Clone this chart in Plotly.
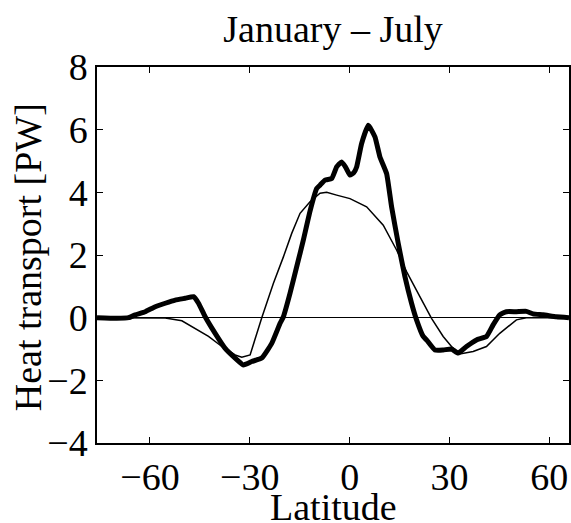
import plotly.graph_objects as go

# Thick curve (observed) — latitude and heat transport [PW]
lat_thick = [-75.9, -70, -66.4, -64.4, -61.4, -58.4, -55.4, -52.4, -49.4, -46.9, -45.4,
             -43.4, -40.4, -37.4, -34.4, -31.9, -29.4, -26.4, -23.4, -20.9, -19.9, -17.9,
             -15.9, -13.9, -11.9, -9.9, -8.9, -7.4, -5.4, -3.9, -2.4, -1.2, 0.1, 1.2, 2.1,
             3.6, 5.6, 7.6, 9.1, 11.1, 12.6, 14.6, 16.6, 18.6, 20.1, 22.1, 23.1, 25.6,
             28.1, 30.6, 32.6, 35.1, 38.1, 41.1, 43.1, 45.1, 47.1, 50.1, 53.1, 55.1,
             58.1, 62.1, 65.9]
val_thick = [0.0, -0.02, 0.0, 0.09, 0.19, 0.35, 0.46, 0.56, 0.62, 0.67, 0.46,
             0.03, -0.5, -0.98, -1.29, -1.51, -1.4, -1.29, -0.82, -0.18, 0.03, 0.78,
             1.63, 2.48, 3.4, 4.12, 4.23, 4.39, 4.44, 4.81, 4.97, 4.8, 4.55, 4.62, 4.81,
             5.56, 6.14, 5.77, 5.13, 4.6, 3.54, 2.37, 1.31, 0.46, -0.07, -0.6, -0.71, -1.03,
             -1.03, -1.0, -1.13, -0.92, -0.71, -0.6, -0.23, 0.09, 0.19, 0.19, 0.2, 0.12,
             0.09, 0.03, 0.0]

# Thin curve (model)
lat_thin = [-75.9, -60, -55.4, -50.4, -46.4, -42.4, -38.4, -34.4, -32.4, -29.9, -26.4,
            -22.9, -19.9, -17.4, -14.9, -11.9, -8.9, -6.9, -3.9, 0.1, 5.1, 10.1, 14.1,
            17.1, 21.1, 24.6, 28.1, 30.6, 33.1, 37.1, 41.1, 45.1, 50.1, 53.1, 65.9]
val_thin = [0.0, 0.0, -0.01, -0.1, -0.34, -0.6, -0.92, -1.19, -1.26, -1.19, 0.0,
            1.1, 1.94, 2.69, 3.33, 3.7, 3.97, 4.0, 3.91, 3.8, 3.54, 2.95, 2.16,
            1.47, 0.67, -0.02, -0.6, -0.92, -1.16, -1.08, -0.92, -0.5, -0.07, 0.0, 0.0]

x_ticks = [-60, -30, 0, 30, 60]
y_ticks = [-4, -2, 0, 2, 4, 6, 8]

FONT = "Liberation Serif"
FS = 38
TXT = dict(family=FONT, size=FS, color="black")

fig = go.Figure()
fig.add_trace(go.Scatter(x=lat_thin, y=val_thin, mode="lines",
                         line=dict(color="black", width=1.5), showlegend=False))
fig.add_trace(go.Scatter(x=lat_thick, y=val_thick, mode="lines",
                         line=dict(color="black", width=5, shape="spline", smoothing=0.4),
                         showlegend=False))

axis_common = dict(showline=True, linecolor="black", linewidth=1.5, mirror="ticks",
                   ticks="inside", ticklen=6, tickwidth=1, tickcolor="black",
                   showgrid=False, automargin=False, tickfont=TXT)

fig.update_layout(
    width=571, height=523,
    margin=dict(l=97, r=2, t=67, b=80),
    paper_bgcolor="white", plot_bgcolor="white",
    font=TXT,
    title=dict(text="January – July", x=0.5, xref="paper", xanchor="center",
               y=0.946, yanchor="middle", yref="container", font=TXT),
    xaxis=dict(range=[-75.9, 65.9], tickvals=x_ticks, zeroline=False, **axis_common),
    yaxis=dict(range=[-4, 8], tickvals=y_ticks, zeroline=True, zerolinecolor="black",
               zerolinewidth=1.2, **axis_common),
    annotations=[
        dict(text="Latitude", xref="paper", yref="paper", x=0.5, y=-0.169,
             xanchor="center", yanchor="middle", showarrow=False, font=TXT),
        dict(text="Heat transport [PW]", xref="paper", yref="paper", x=-0.1454, y=0.495,
             xanchor="center", yanchor="middle", textangle=-90, showarrow=False, font=TXT),
    ],
)

fig.write_html("out.html", config={"displayModeBar": False},
               post_script="document.body.style.margin='0';document.body.style.overflow='hidden';")
